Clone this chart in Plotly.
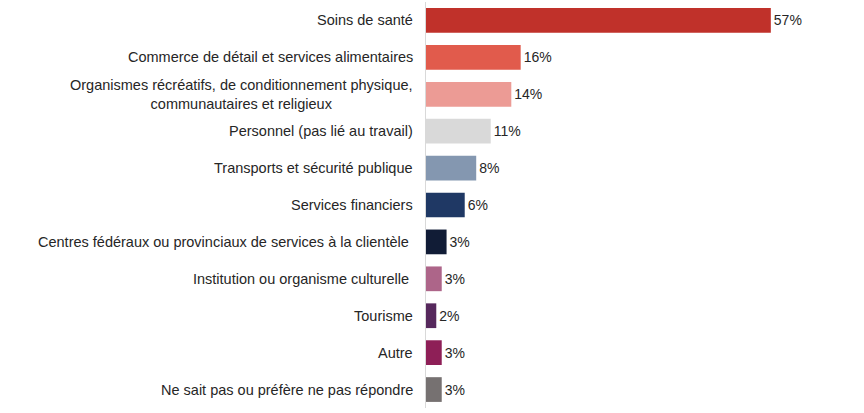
import plotly.graph_objects as go

categories = [
    "Soins de santé",
    "Commerce de détail et services alimentaires",
    "Organismes récréatifs, de conditionnement physique,<br>communautaires et religieux",
    "Personnel (pas lié au travail)",
    "Transports et sécurité publique",
    "Services financiers",
    "Centres fédéraux ou provinciaux de services à la clientèle ",
    "Institution ou organisme culturelle ",
    "Tourisme",
    "Autre",
    "Ne sait pas ou préfère ne pas répondre",
]
values = [57.0, 15.65, 14.1, 10.7, 8.3, 6.4, 3.4, 2.6, 1.7, 2.6, 2.6]
value_labels = ["57%", "16%", "14%", "11%", "8%", "6%", "3%", "3%", "2%", "3%", "3%"]
colors = ["#C0312A", "#E15B4C", "#EC9B95", "#D9D9D9", "#8497B0", "#1F3864",
          "#111C36", "#AD6589", "#56285C", "#8E1F57", "#767171"]

FONT = "Liberation Sans, Arial, sans-serif"

fig = go.Figure(go.Bar(
    x=values,
    y=categories,
    orientation="h",
    marker=dict(color=colors, line=dict(width=0)),
    text=value_labels,
    textposition="outside",
    textfont=dict(family=FONT, size=14, color="#262626"),
    cliponaxis=False,
    hoverinfo="skip",
))

for cat in categories:
    fig.add_annotation(
        x=0, xref="paper", y=cat, yref="y",
        text=cat, showarrow=False, xanchor="right", align="center",
        xshift=-11,
        font=dict(family=FONT, size=14.5, color="#262626"),
    )

fig.update_layout(
    width=864, height=413,
    margin=dict(l=426, r=34, t=2, b=5),
    paper_bgcolor="white", plot_bgcolor="white",
    bargap=0.33,
    showlegend=False,
    font=dict(family=FONT, size=14, color="#262626"),
)
fig.update_xaxes(range=[0, 66.78], visible=False, showgrid=False, zeroline=False)
fig.update_yaxes(autorange="reversed", showticklabels=False, showgrid=False,
                 showline=True, linecolor="#D9D9D9", linewidth=1, ticks="",
                 zeroline=False)

fig.write_html(
    "out.html",
    config={"displayModeBar": False},
    post_script="document.body.style.margin='0';document.body.style.overflow='hidden';",
)
